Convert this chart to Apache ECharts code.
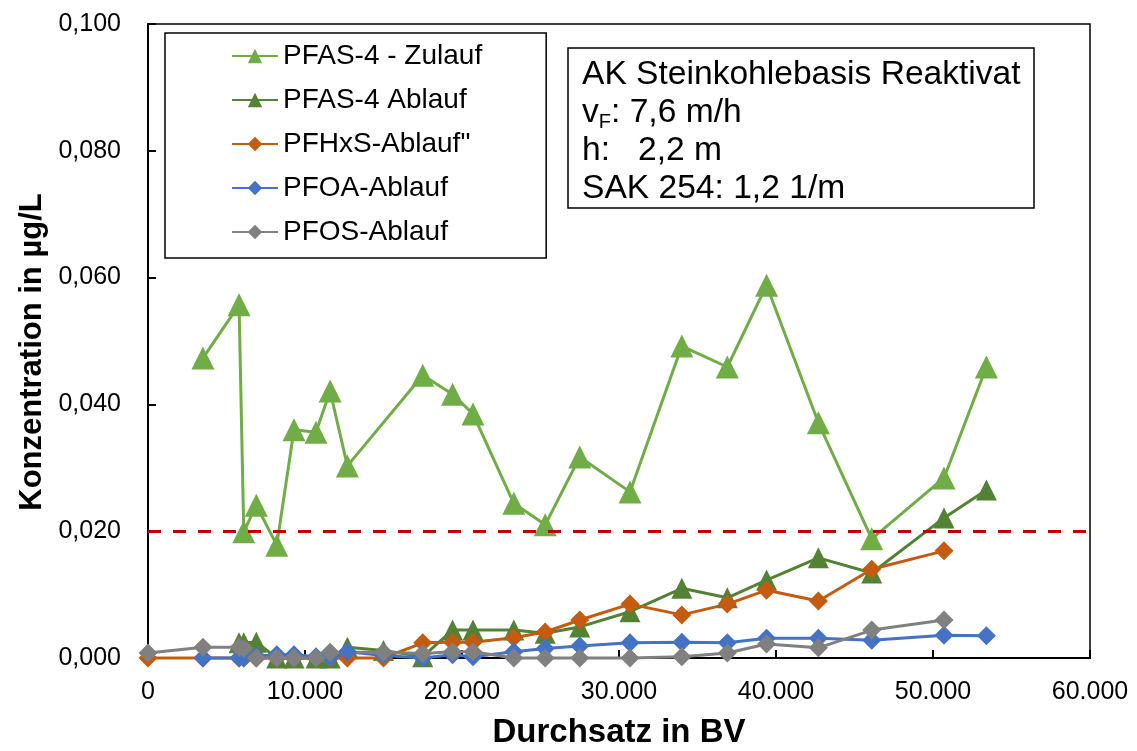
<!DOCTYPE html>
<html>
<head>
<meta charset="utf-8">
<script src="https://cdn.jsdelivr.net/npm/echarts@6/dist/echarts.min.js"></script>
<style>
  html, body { margin: 0; padding: 0; background: #fff; }
  #chart { width: 1137px; height: 751px; }
</style>
</head>
<body>
<div id="chart"></div>
<script>
  // Durchsatz in BV je Messreihe
  const bvZulauf = [3500, 5800, 6100, 6900, 8200, 9300, 10700, 11600, 12700, 17500, 19400, 20700, 23300, 25300, 27500, 30700, 34000, 36900, 39400, 42700, 46100, 50700, 53400]
  const bvAblauf = [5800, 6100, 6900, 8200, 9300, 10700, 11600, 12700, 15000, 17500, 19400, 20700, 23300, 25300, 27500, 30700, 34000, 36900, 39400, 42700, 46100, 50700, 53400]
  const bvPfhxs = [0, 3500, 5800, 6100, 6900, 8200, 9300, 10700, 11600, 12700, 15000, 17500, 19400, 20700, 23300, 25300, 27500, 30700, 34000, 36900, 39400, 42700, 46100, 50700]
  const bvPfoa = [3500, 5800, 6100, 6900, 8200, 9300, 10700, 11600, 12700, 15000, 17500, 19400, 20700, 23300, 25300, 27500, 30700, 34000, 36900, 39400, 42700, 46100, 50700, 53400]
  const bvPfos = [0, 3500, 5800, 6100, 6900, 8200, 9300, 10700, 11600, 15000, 17500, 19400, 20700, 23300, 25300, 27500, 30700, 34000, 36900, 39400, 42700, 46100, 50700]

  // Konzentrationen in µg/L
  const pfas4Zulauf = [0.0473, 0.0557, 0.0199, 0.0241, 0.0178, 0.0360, 0.0356, 0.0421, 0.0303, 0.0446, 0.0416, 0.0385, 0.0244, 0.0210, 0.0317, 0.0262, 0.0492, 0.0459, 0.0588, 0.0371, 0.0188, 0.0284, 0.0459]
  const pfas4Ablauf = [0.0024, 0.0024, 0.0025, 0, 0, 0, 0, 0.0017, 0.0012, 0.0002, 0.0044, 0.0044, 0.0044, 0.0039, 0.0049, 0.0073, 0.0110, 0.0095, 0.0123, 0.0158, 0.0134, 0.0221, 0.0265]
  const pfhxsAblauf = [0, 0, 0, 0, 0, 0, 0, 0, 0, 0, 0, 0.0024, 0.0025, 0.0025, 0.0032, 0.0041, 0.0060, 0.0085, 0.0068, 0.0085, 0.0107, 0.0090, 0.0140, 0.0169]
  const pfoaAblauf = [0, 0, 0, 0.0003, 0.0005, 0.0005, 0.0002, 0.0001, 0.0010, 0.0004, 0, 0.0005, 0.0002, 0.0010, 0.0015, 0.0019, 0.0024, 0.0025, 0.0024, 0.0031, 0.0031, 0.0028, 0.0036, 0.0035]
  const pfosAblauf = [0.0008, 0.0017, 0.0017, 0.0015, 0, 0, 0, 0, 0.0009, 0.0009, 0.0007, 0.0010, 0.0010, 0, 0, 0, 0, 0.0002, 0.0008, 0.0022, 0.0016, 0.0044, 0.0060]

  const grenzwert = 0.02

  const font = '"Liberation Sans", Arial, sans-serif'

  const pairs = (xs, ys) => xs.map((x, i) => [x, ys[i]])

  const lineSeries = (name, xs, ys, color, symbol, size) => ({
    name,
    type: 'line',
    data: pairs(xs, ys),
    symbol,
    symbolSize: size,
    clip: false,
    lineStyle: { color, width: 3 },
    itemStyle: { color },
    emphasis: { disabled: true }
  })

  const chart = echarts.init(document.getElementById('chart'))

  const zulauf = lineSeries('PFAS-4 - Zulauf', bvZulauf, pfas4Zulauf, '#70AD47', 'triangle', 23)
  zulauf.markLine = {
    silent: true,
    symbol: ['none', 'none'],
    label: { show: false },
    lineStyle: { color: '#C00000', width: 3, type: [13, 12] },
    data: [{ yAxis: grenzwert }]
  }

  chart.setOption({
    animation: false,
    backgroundColor: '#fff',
    grid: {
      left: 148,
      right: 47,
      top: 24,
      bottom: 93,
      outerBoundsMode: 'none',
      containLabel: false,
      show: true,
      borderColor: '#000',
      borderWidth: 1.5
    },
    title: {
      text: '{a|AK Steinkohlebasis Reaktivat}\n{a|v}{s|F}{a|: 7,6 m/h}\n{a|h:   2,2 m}\n{a|SAK 254: 1,2 1/m}',
      left: 568,
      top: 46,
      borderColor: '#000',
      borderWidth: 1.5,
      padding: [10, 14, 2, 14],
      textStyle: {
        fontWeight: 'normal',
        rich: {
          a: { fontFamily: font, fontWeight: 'normal', fontSize: 33.6, lineHeight: 38, color: '#000' },
          s: { fontFamily: font, fontWeight: 'normal', fontSize: 20, lineHeight: 20, verticalAlign: 'bottom', color: '#000' }
        }
      }
    },
    legend: {
      left: 165,
      top: 33,
      orient: 'vertical',
      borderColor: '#000',
      borderWidth: 1.5,
      padding: [9, 64, 12, 66],
      itemGap: 16,
      itemWidth: 46,
      itemHeight: 18,
      textStyle: { fontFamily: font, fontSize: 28, color: '#000', lineHeight: 28 }
    },
    xAxis: {
      type: 'value',
      min: 0,
      max: 60000,
      interval: 10000,
      name: 'Durchsatz in BV',
      nameLocation: 'middle',
      nameGap: 58,
      nameTextStyle: { fontFamily: font, fontSize: 33, fontWeight: 'bold', color: '#000' },
      axisLine: { lineStyle: { color: '#000', width: 2 } },
      axisTick: { inside: true, length: 8, lineStyle: { color: '#000', width: 2 } },
      axisLabel: {
        fontFamily: font,
        fontSize: 25,
        color: '#000',
        margin: 22,
        formatter: v => v === 0 ? '0' : (v / 1000).toFixed(0) + '.000'
      },
      splitLine: { show: false }
    },
    yAxis: {
      type: 'value',
      min: 0,
      max: 0.1,
      interval: 0.02,
      name: 'Konzentration in µg/L',
      nameLocation: 'middle',
      nameGap: 99,
      nameTextStyle: { fontFamily: font, fontSize: 31, fontWeight: 'bold', color: '#000', padding: [0, 22, 0, 0] },
      axisLine: { show: true, lineStyle: { color: '#000', width: 2 } },
      axisTick: { show: true, inside: true, length: 8, lineStyle: { color: '#000', width: 2 } },
      axisLabel: {
        fontFamily: font,
        fontSize: 25,
        color: '#000',
        margin: 27,
        formatter: v => v.toFixed(3).replace('.', ',')
      },
      splitLine: { show: false }
    },
    series: [
      zulauf,
      lineSeries('PFAS-4 Ablauf', bvAblauf, pfas4Ablauf, '#548235', 'triangle', 21),
      lineSeries('PFHxS-Ablauf"', bvPfhxs, pfhxsAblauf, '#C55A11', 'diamond', 19),
      lineSeries('PFOA-Ablauf', bvPfoa, pfoaAblauf, '#4472C4', 'diamond', 19),
      lineSeries('PFOS-Ablauf', bvPfos, pfosAblauf, '#808080', 'diamond', 19)
    ]
  })
</script>
</body>
</html>
